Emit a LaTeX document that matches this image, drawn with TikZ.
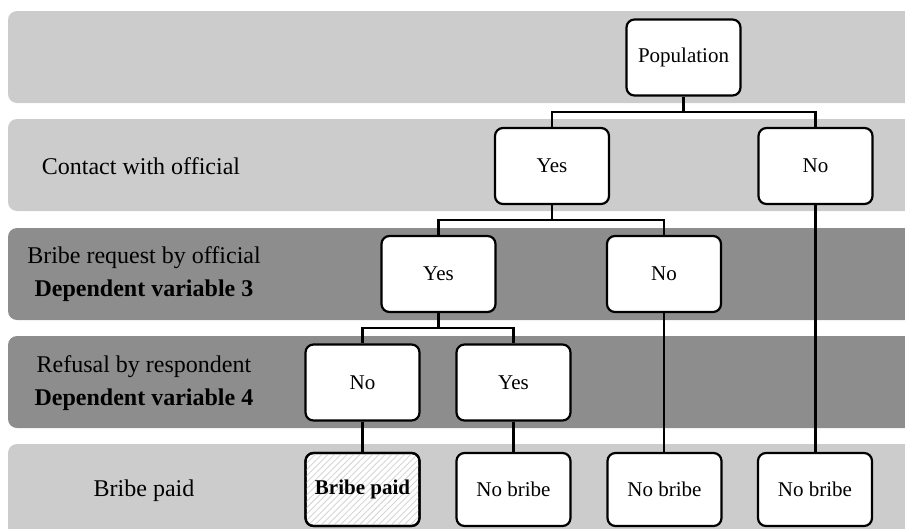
\documentclass[tikz,border=0pt]{standalone}
\usepackage{fontspec}
\setmainfont{Liberation Serif}
\usetikzlibrary{patterns.meta}
\definecolor{bandlight}{RGB}{204,204,204}
\definecolor{banddark}{RGB}{141,141,141}
\begin{document}
\begin{tikzpicture}[x=1pt,y=-1pt,
  band/.style={rounded corners=9pt},
  tbox/.style={draw=black, line width=2.2pt, fill=white, rounded corners=8pt,
    minimum width=114pt, minimum height=76pt, inner sep=0pt,
    font=\fontsize{21}{25}\selectfont},
  lastbox/.style={tbox, minimum height=73pt},
  hatchbox/.style={lastbox,
    postaction={pattern={Lines[angle=45,distance=4.5pt,line width=0.9pt]}, pattern color=black!16},
    postaction={draw=black, line width=2.2pt},
    font=\fontsize{21}{25}\selectfont\bfseries},
  lbl/.style={align=center, font=\fontsize{24}{33}\selectfont, inner sep=0pt},
  conn/.style={draw=black, line width=2.2pt}
]
\useasboundingbox (0,0) rectangle (905,528);
% bands
\fill[bandlight, band] (8,11) rectangle (930,103);
\fill[bandlight, band] (8,119) rectangle (930,211);
\fill[banddark, band] (8,228) rectangle (930,320);
\fill[banddark, band] (8,336) rectangle (930,428);
\fill[bandlight, band] (8,444) rectangle (930,560);
% labels
\node[lbl] (l2) at (141,166) {Contact with official};
\node[lbl] (l3) at (144,274) {Bribe request by official\\\textbf{Dependent variable 3}};
\node[lbl] (l4) at (144,383) {Refusal by respondent\\\textbf{Dependent variable 4}};
\node[lbl] (l5) at (144,491) {Bribe paid};
% boxes
\node[tbox] (pop) at (683.5,57.5) {Population};
\node[tbox] (yes2) at (552,166) {Yes};
\node[tbox] (no2) at (815.5,166) {No};
\node[tbox] (yes3) at (438.5,274) {Yes};
\node[tbox] (no3) at (664,274) {No};
\node[tbox] (no4) at (362.5,382.5) {No};
\node[tbox] (yes4) at (513.5,382.5) {Yes};
\node[hatchbox] (paid) at (362.5,489.5) {Bribe paid};
\node[lastbox] (nb1) at (513.5,489.5) {No bribe};
\node[lastbox] (nb2) at (664.5,489.5) {No bribe};
\node[lastbox] (nb3) at (815,489.5) {No bribe};
% connectors
\draw[conn] (pop.south) -- ++(0,15) coordinate (m1) -| (yes2.north);
\draw[conn] (m1) -| (no2.north);
\draw[conn] (yes2.south) -- ++(0,15) coordinate (m2) -| (yes3.north);
\draw[conn] (m2) -| (no3.north);
\draw[conn] (yes3.south) -- ++(0,15) coordinate (m3) -| (no4.north);
\draw[conn] (m3) -| (yes4.north);
\draw[conn] (no4.south) -- (paid.north);
\draw[conn] (yes4.south) -- (nb1.north);
\draw[conn] (no3.south) -- (no3.south |- nb2.north);
\draw[conn] (no2.south) -- (no2.south |- nb3.north);
\end{tikzpicture}
\end{document}
